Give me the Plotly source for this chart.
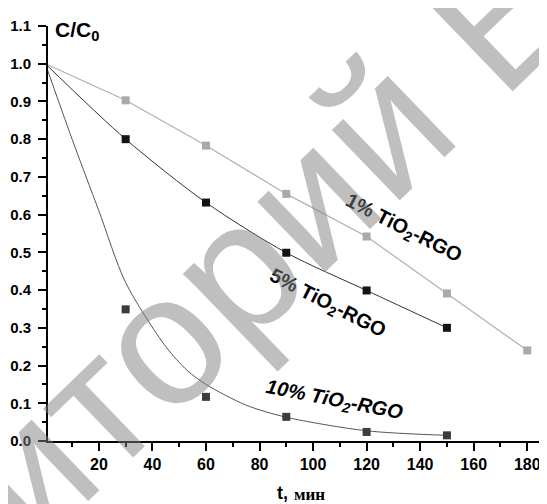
import plotly.graph_objects as go

# ---- data ----
t = [0, 30, 60, 90, 120, 150]
t1 = [0, 30, 60, 90, 120, 150, 180]
c_1pct = [1.0, 0.903, 0.783, 0.655, 0.542, 0.391, 0.240]
c_5pct = [1.0, 0.800, 0.632, 0.499, 0.399, 0.300]
c_10pct = [1.0, 0.349, 0.117, 0.064, 0.024, 0.015]
# fitted curve for 10%
t_fit10 = [0, 10, 20, 30, 45, 53, 60, 75, 90, 120, 150]
c_fit10 = [1.0, 0.80, 0.61, 0.42, 0.25, 0.187, 0.15, 0.095, 0.063, 0.027, 0.015]

x_ticks = [20, 40, 60, 80, 100, 120, 140, 160, 180]
y_ticks = [0.0, 0.1, 0.2, 0.3, 0.4, 0.5, 0.6, 0.7, 0.8, 0.9, 1.0, 1.1]

OFF = 8  # page body margin of the browser
W, H = 547 - OFF, 504 - OFF
L, R, T, B = 40, 1, 18, 63
PW, PH = W - L - R, H - T - B


def px(xr, yr):
    xf, yf = xr - OFF, yr - OFF
    return (xf - L) / PW, (H - B - yf) / PH


fig = go.Figure()

fig.add_trace(go.Scatter(x=t1, y=c_1pct, mode="lines+markers",
                         line=dict(color="#b0b0b0", width=1.2),
                         marker=dict(symbol="square", size=8, color="#a9a9a9"),
                         cliponaxis=False, showlegend=False))
fig.add_trace(go.Scatter(x=t, y=c_5pct, mode="lines+markers",
                         line=dict(color="#333333", width=1, shape="spline", smoothing=0.8),
                         marker=dict(symbol="square", size=8, color="#141414"),
                         cliponaxis=False, showlegend=False))
fig.add_trace(go.Scatter(x=t_fit10, y=c_fit10, mode="lines",
                         line=dict(color="#555555", width=1, shape="spline", smoothing=0.8),
                         cliponaxis=False, showlegend=False))
fig.add_trace(go.Scatter(x=t, y=c_10pct, mode="markers",
                         marker=dict(symbol="square", size=8, color="#3c3c3c"),
                         cliponaxis=False, showlegend=False))

tickfont = dict(family="Liberation Sans, Arial", size=15, color="black", weight="bold")

fig.update_xaxes(range=[1.0, 187.0], tickvals=x_ticks, ticktext=[str(v) for v in x_ticks],
                 showline=True, linecolor="black", linewidth=2,
                 ticks="outside", ticklen=8, tickwidth=1.5, tickcolor="black",
                 minor=dict(dtick=10, tick0=0, ticks="outside", ticklen=4, tickwidth=1.5, tickcolor="black"),
                 showgrid=False, zeroline=False, tickfont=dict(tickfont, size=16),
                 automargin=False)
fig.update_yaxes(range=[0, 1.1], tickvals=y_ticks, ticktext=["%.1f" % v for v in y_ticks],
                 showline=True, linecolor="black", linewidth=2,
                 ticks="outside", ticklen=8, tickwidth=1.5, tickcolor="black",
                 minor=dict(dtick=0.05, tick0=0, ticks="outside", ticklen=4, tickwidth=1.5, tickcolor="black"),
                 showgrid=False, zeroline=False, tickfont=tickfont, ticklabelstandoff=4,
                 automargin=False)

ann = []
# axis titles
x, y = px(53, 31)
ann.append(dict(x=x, y=y, xref="paper", yref="paper", xanchor="left", yanchor="middle",
                text="C/C<sub>0</sub>", showarrow=False,
                font=dict(family="Liberation Sans, Arial", size=21, color="black", weight="bold")))
x, y = px(290, 493)
ann.append(dict(x=x, y=y, xref="paper", yref="paper", xanchor="right", yanchor="middle",
                text="t,", showarrow=False,
                font=dict(family="Liberation Sans, Arial", size=18, color="black", weight="bold")))
x, y = px(292, 494)
ann.append(dict(x=x, y=y, xref="paper", yref="paper", xanchor="left", yanchor="middle",
                text="мин", showarrow=False,
                font=dict(family="Liberation Serif, Times New Roman", size=17, color="black", weight="bold")))

labfont = dict(family="Liberation Sans, Arial", size=20, color="black", weight="bold")
x, y = px(403, 228)
ann.append(dict(x=x, y=y, xref="paper", yref="paper", xanchor="center", yanchor="middle",
                text="1% TiO<sub>2</sub>-RGO",
                textangle=27, showarrow=False, font=labfont))
x, y = px(327, 303)
ann.append(dict(x=x, y=y, xref="paper", yref="paper", xanchor="center", yanchor="middle",
                text="5% TiO<sub>2</sub>-RGO",
                textangle=27, showarrow=False, font=labfont))
x, y = px(334, 400)
ann.append(dict(x=x, y=y, xref="paper", yref="paper", xanchor="center", yanchor="middle",
                text="<i>10% TiO<sub>2</sub>-RGO</i>",
                textangle=11, showarrow=False, font=labfont))

# repository watermark
x, y = px(256, 250)
ann.append(dict(x=x, y=y, xref="paper", yref="paper", xanchor="center", yanchor="middle",
                text="Репозиторий БГУИР",
                textangle=-44, showarrow=False,
                font=dict(family="Liberation Sans, Arial", size=185, color="rgba(128,128,128,0.5)")))

fig.update_layout(width=W, height=H, margin=dict(l=L, r=R, t=T, b=B),
                  paper_bgcolor="white", plot_bgcolor="white", annotations=ann)

fig.write_html("out.html")
